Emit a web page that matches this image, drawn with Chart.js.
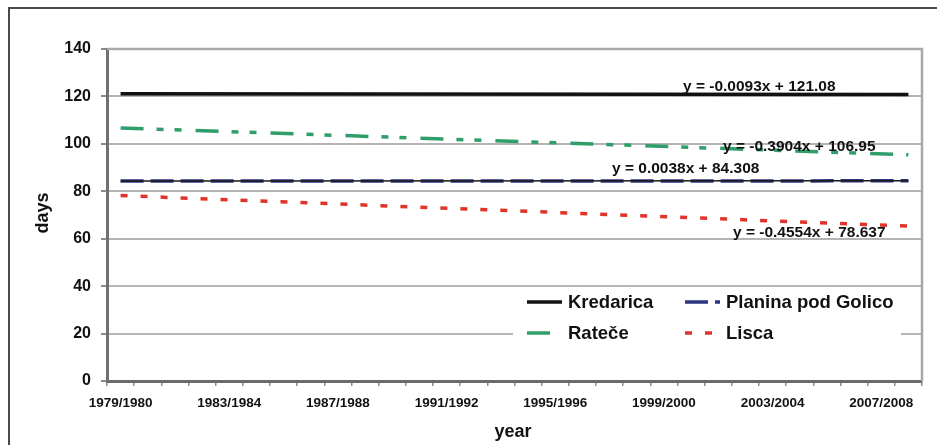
<!DOCTYPE html>
<html>
<head>
<meta charset="utf-8">
<script src="https://cdn.jsdelivr.net/npm/chart.js@4"></script>
<style>
  html, body { margin: 0; padding: 0; background: #fff; overflow: hidden; }
  #wrap { position: relative; width: 937px; height: 445px; }
  #frame { position: absolute; left: 8px; top: 7px; width: 1000px; height: 500px; border: 2px solid #4a4a4a; }
  #chart { position: absolute; left: 0; top: 0; }
</style>
</head>
<body>
<div id="wrap">
  <div id="frame"></div>
  <canvas id="chart" width="937" height="445"></canvas>
</div>
<script>
// sezone 1979/1980 ... 2008/2009
const seasons = [
  '1979/1980', '1980/1981', '1981/1982', '1982/1983', '1983/1984', '1984/1985',
  '1985/1986', '1986/1987', '1987/1988', '1988/1989', '1989/1990', '1990/1991',
  '1991/1992', '1992/1993', '1993/1994', '1994/1995', '1995/1996', '1996/1997',
  '1997/1998', '1998/1999', '1999/2000', '2000/2001', '2001/2002', '2002/2003',
  '2003/2004', '2004/2005', '2005/2006', '2006/2007', '2007/2008', '2008/2009'
];

// trend lines: value at first and last season
const kredarica = [121.1, 120.8];
const ratece = [106.7, 95.4];
const planina = [84.3, 84.4];
const lisca = [78.2, 65.3];

const yTicks = [0, 20, 40, 60, 80, 100, 120, 140];

const equations = [
  'y = -0.0093x + 121.08',
  'y = -0.3904x + 106.95',
  'y = 0.0038x + 84.308',
  'y = -0.4554x + 78.637'
];

const FONT = "'Liberation Sans', Arial, sans-serif";

function endpoints(pair) {
  const arr = Array(seasons.length).fill(null);
  arr[0] = pair[0];
  arr[seasons.length - 1] = pair[1];
  return arr;
}

const series = [
  { label: 'Kredarica', data: endpoints(kredarica), borderColor: '#111111', borderWidth: 3.5, borderDash: [] },
  { label: 'Planina pod Golico', data: endpoints(planina), borderColor: '#2c3580', borderWidth: 3.5, borderDash: [23, 7] },
  { label: 'Rateče', data: endpoints(ratece), borderColor: '#2f9e6b', borderWidth: 3.5, borderDash: [23, 13, 7, 11, 7, 14] },
  { label: 'Lisca', data: endpoints(lisca), borderColor: '#e0332a', borderWidth: 3.5, borderDash: [7, 13] }
];

// thin black line under the Planina dashes
const planinaBase = {
  label: '_planinaBase', data: endpoints(planina), borderColor: '#1a1a1a', borderWidth: 1.5,
  pointRadius: 0, spanGaps: true, fill: false
};

// ===== rámček plochy, rovnice, legenda, osové titulky =====
const decorPlugin = {
  id: 'decor',
  beforeDatasetsDraw(chart) {
    const { ctx, chartArea } = chart;
    ctx.save();
    ctx.strokeStyle = '#a8a8a8';
    ctx.lineWidth = 2.5;
    ctx.beginPath();
    ctx.moveTo(chartArea.left, chartArea.top);
    ctx.lineTo(chartArea.right, chartArea.top);
    ctx.lineTo(chartArea.right, chartArea.bottom);
    ctx.stroke();
    ctx.restore();
  },
  afterDatasetsDraw(chart) {
    const { ctx } = chart;
    ctx.save();
    ctx.fillStyle = '#111';
    ctx.textBaseline = 'middle';
    ctx.textAlign = 'left';
    ctx.font = `bold 15.5px ${FONT}`;
    const eqPos = [[683, 87], [723, 147], [612, 169], [733, 233]];
    equations.forEach((t, i) => ctx.fillText(t, eqPos[i][0], eqPos[i][1]));

    // legend box
    ctx.fillStyle = '#fff';
    ctx.fillRect(513, 289, 388, 90);
    const items = [
      { ds: series[0], x: 527, y: 302 },
      { ds: series[1], x: 685, y: 302 },
      { ds: series[2], x: 527, y: 333 },
      { ds: series[3], x: 685, y: 333 }
    ];
    items.forEach(it => {
      ctx.strokeStyle = it.ds.borderColor;
      ctx.lineWidth = 3.5;
      ctx.setLineDash(it.ds.borderDash);
      ctx.beginPath();
      ctx.moveTo(it.x, it.y);
      ctx.lineTo(it.x + 35, it.y);
      ctx.stroke();
      ctx.setLineDash([]);
      ctx.fillStyle = '#111';
      ctx.font = `bold 18.5px ${FONT}`;
      ctx.fillText(it.ds.label, it.x + 41, it.y + 1);
    });

    // axis titles
    ctx.font = `bold 18px ${FONT}`;
    ctx.textAlign = 'center';
    ctx.fillText('year', 513, 432);
    ctx.translate(43, 213);
    ctx.rotate(-Math.PI / 2);
    ctx.fillText('days', 0, 0);
    ctx.restore();
  }
};

new Chart(document.getElementById('chart').getContext('2d'), {
  type: 'line',
  data: {
    labels: seasons,
    datasets: [planinaBase].concat(series.map(s => ({
      label: s.label,
      data: s.data,
      borderColor: s.borderColor,
      borderWidth: s.borderWidth,
      borderDash: s.borderDash,
      borderCapStyle: 'butt',
      pointRadius: 0,
      spanGaps: true,
      fill: false
    })))
  },
  options: {
    responsive: false,
    animation: false,
    layout: { padding: { left: 0, top: 49, right: 15, bottom: 0 } },
    plugins: { legend: { display: false }, tooltip: { enabled: false } },
    scales: {
      x: {
        offset: true,
        afterFit: s => { s.height = 64; },
        border: { display: true, color: '#6a6a6a', width: 3 },
        grid: { offset: true, drawOnChartArea: false, drawTicks: true, tickLength: 5, tickColor: '#8a8a8a', lineWidth: 1.5 },
        ticks: {
          autoSkip: false, maxRotation: 0, minRotation: 0, padding: 9,
          color: '#111', font: { family: FONT, size: 13.5, weight: 'bold' },
          callback: function (v, i) { return i % 4 === 0 ? seasons[i] : ''; }
        }
      },
      y: {
        min: yTicks[0],
        max: yTicks[yTicks.length - 1],
        afterFit: s => { s.width = 107; },
        afterBuildTicks: s => { s.ticks = yTicks.map(v => ({ value: v })); },
        border: { display: true, color: '#707070', width: 3 },
        grid: { color: '#b4b4b4', lineWidth: 2, tickLength: 6, tickColor: '#8a8a8a' },
        ticks: { padding: 10, color: '#111', font: { family: FONT, size: 16, weight: 'bold' } }
      }
    }
  },
  plugins: [decorPlugin]
});
</script>
</body>
</html>
